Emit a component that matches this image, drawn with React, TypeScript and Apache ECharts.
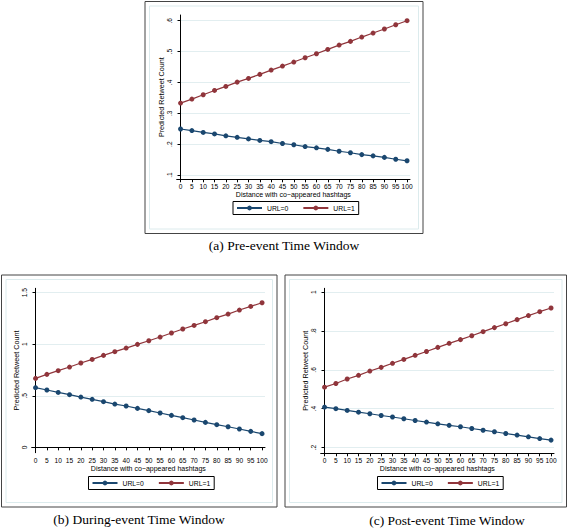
import React, { useEffect, useRef } from "react";
import * as echarts from "echarts";

const xs = [0, 5, 10, 15, 20, 25, 30, 35, 40, 45, 50, 55, 60, 65, 70, 75, 80, 85, 90, 95, 100];

const preUrl0 = [0.249, 0.244, 0.238, 0.233, 0.227, 0.222, 0.217, 0.212, 0.208, 0.202, 0.198, 0.192, 0.188, 0.183, 0.177, 0.172, 0.166, 0.162, 0.157, 0.151, 0.146];
const preUrl1 = [0.333, 0.346, 0.36, 0.374, 0.387, 0.401, 0.413, 0.426, 0.44, 0.453, 0.466, 0.48, 0.493, 0.507, 0.521, 0.533, 0.547, 0.56, 0.573, 0.587, 0.6];

const duringUrl0 = [0.579, 0.556, 0.533, 0.511, 0.488, 0.466, 0.443, 0.42, 0.401, 0.378, 0.356, 0.333, 0.31, 0.288, 0.265, 0.242, 0.22, 0.2, 0.178, 0.155, 0.133];
const duringUrl1 = [0.669, 0.708, 0.744, 0.779, 0.818, 0.853, 0.892, 0.928, 0.963, 0.999, 1.034, 1.07, 1.109, 1.148, 1.183, 1.219, 1.258, 1.293, 1.332, 1.367, 1.403];

const postUrl0 = [0.408, 0.4, 0.391, 0.382, 0.374, 0.365, 0.357, 0.348, 0.339, 0.331, 0.322, 0.314, 0.307, 0.298, 0.289, 0.281, 0.272, 0.264, 0.255, 0.246, 0.238];
const postUrl1 = [0.511, 0.53, 0.553, 0.572, 0.594, 0.613, 0.634, 0.654, 0.675, 0.695, 0.716, 0.737, 0.756, 0.776, 0.797, 0.818, 0.838, 0.859, 0.88, 0.9, 0.919];

const yTicksPre = [0.1, 0.2, 0.3, 0.4, 0.5, 0.6];
const yTicksDuring = [0, 0.5, 1, 1.5];
const yTicksPost = [0.2, 0.4, 0.6, 0.8, 1];

const seriesNames = ["URL=0", "URL=1"];
const captions = ["(a) Pre-event Time Window", "(b) During-event Time Window", "(c) Post-event Time Window"];
const xTitle = "Distance with co\u2212appeared hashtags";
const yTitle = "Predicted Retweet Count";

const NAVY = "#1a476f";
const MAROON = "#90353b";
const SANS = "Liberation Sans, Arial, sans-serif";
const SERIF = "Liberation Serif, Times New Roman, serif";

const fmt = (v: number) => String(+(+v).toFixed(3)).replace(/^0\./, ".");

const panels = [
  { grid: { left: 176.7, top: 15, width: 233.3, height: 164.3 }, yMin: 0.086, yMax: 0.6185, ticks: yTicksPre, u0: preUrl0, u1: preUrl1, legend: { left: 233, top: 201.5 } },
  { grid: { left: 31.7, top: 288.3, width: 233.3, height: 164.4 }, yMin: -0.052, yMax: 1.543, ticks: yTicksDuring, u0: duringUrl0, u1: duringUrl1, legend: { left: 88.5, top: 476.5 } },
  { grid: { left: 320.7, top: 288.3, width: 233.3, height: 165 }, yMin: 0.17, yMax: 1.0206, ticks: yTicksPost, u0: postUrl0, u1: postUrl1, legend: { left: 377.5, top: 476.5 } },
];

const boxes = [
  { x: 145, y: 1.5, w: 278, h: 232, cx: 284, cy: 245, cap: captions[0] },
  { x: 1.5, y: 275, w: 275.5, h: 232, cx: 139, cy: 519, cap: captions[1] },
  { x: 285, y: 275, w: 281.5, h: 232, cx: 447, cy: 520, cap: captions[2] },
];

export default function App() {
  const ref = useRef<HTMLDivElement>(null);
  useEffect(() => {
    if (!ref.current) return;
    const chart = echarts.init(ref.current, undefined, { renderer: "svg" });
    const grids: any[] = [];
    const xAxes: any[] = [];
    const yAxes: any[] = [];
    const series: any[] = [];
    const legends: any[] = [];
    panels.forEach((p, i) => {
      grids.push({ ...p.grid, containLabel: false });
      xAxes.push({
        type: "value",
        gridIndex: i,
        min: -1.7,
        max: 101.3,
        name: xTitle,
        nameLocation: "middle",
        nameGap: 11,
        nameTextStyle: { fontFamily: SANS, fontSize: 7, color: "#000" },
        axisLine: { show: true, lineStyle: { color: "#000", width: 1 } },
        axisTick: { show: true, length: 3, customValues: xs, lineStyle: { color: "#000" } },
        axisLabel: { customValues: xs, interval: 0, margin: 4, fontFamily: SANS, fontSize: 6.6, color: "#000", hideOverlap: false },
        splitLine: { show: false },
      });
      yAxes.push({
        type: "value",
        gridIndex: i,
        min: p.yMin,
        max: p.yMax,
        name: yTitle,
        nameLocation: "middle",
        nameGap: 11,
        nameTextStyle: { fontFamily: SANS, fontSize: 7.2, color: "#000" },
        axisLine: { show: true, lineStyle: { color: "#000", width: 1 } },
        axisTick: { show: true, length: 3, customValues: p.ticks, lineStyle: { color: "#000" } },
        axisLabel: { customValues: p.ticks, rotate: 90, margin: 4, fontFamily: SANS, fontSize: 6.6, color: "#000", formatter: fmt },
        splitLine: { show: true, lineStyle: { color: "#e2eef0", width: 1 } },
      });
      [p.u0, p.u1].forEach((vals, k) => {
        series.push({
          type: "line",
          name: seriesNames[k],
          xAxisIndex: i,
          yAxisIndex: i,
          data: xs.map((x, j) => [x, vals[j]]),
          symbol: "circle",
          symbolSize: 5,
          showSymbol: true,
          lineStyle: { color: k === 0 ? NAVY : MAROON, width: 1.2 },
          itemStyle: { color: k === 0 ? NAVY : MAROON },
        });
      });
      legends.push({
        data: seriesNames,
        left: p.legend.left,
        top: p.legend.top,
        orient: "horizontal",
        itemWidth: 25,
        itemHeight: 6,
        itemGap: 14,
        padding: [3, 4, 3, 3],
        borderColor: "#000",
        borderWidth: 1,
        borderRadius: 0,
        selectedMode: false,
        textStyle: { fontFamily: SANS, fontSize: 6.8, color: "#000" },
      });
    });
    const graphic: any[] = [];
    boxes.forEach((b) => {
      graphic.push({ type: "rect", shape: { x: b.x, y: b.y, width: b.w, height: b.h }, style: { fill: "none", stroke: "#444", lineWidth: 1 }, silent: true });
      graphic.push({ type: "rect", shape: { x: b.x + 4.5, y: b.y + 4.5, width: b.w - 9, height: b.h - 9 }, style: { fill: "none", stroke: "#dcebed", lineWidth: 1 }, silent: true });
      graphic.push({ type: "text", x: b.cx, y: b.cy, style: { text: b.cap, fontFamily: SERIF, fontSize: 13.5, fill: "#000", textAlign: "center", textVerticalAlign: "middle" }, silent: true });
    });
    chart.setOption({
      animation: false,
      backgroundColor: "#fff",
      grid: grids,
      xAxis: xAxes,
      yAxis: yAxes,
      series,
      legend: legends,
      graphic,
    });
    return () => chart.dispose();
  }, []);
  return <div ref={ref} style={{ position: "absolute", left: 0, top: 0, width: 568, height: 529 }} />;
}
